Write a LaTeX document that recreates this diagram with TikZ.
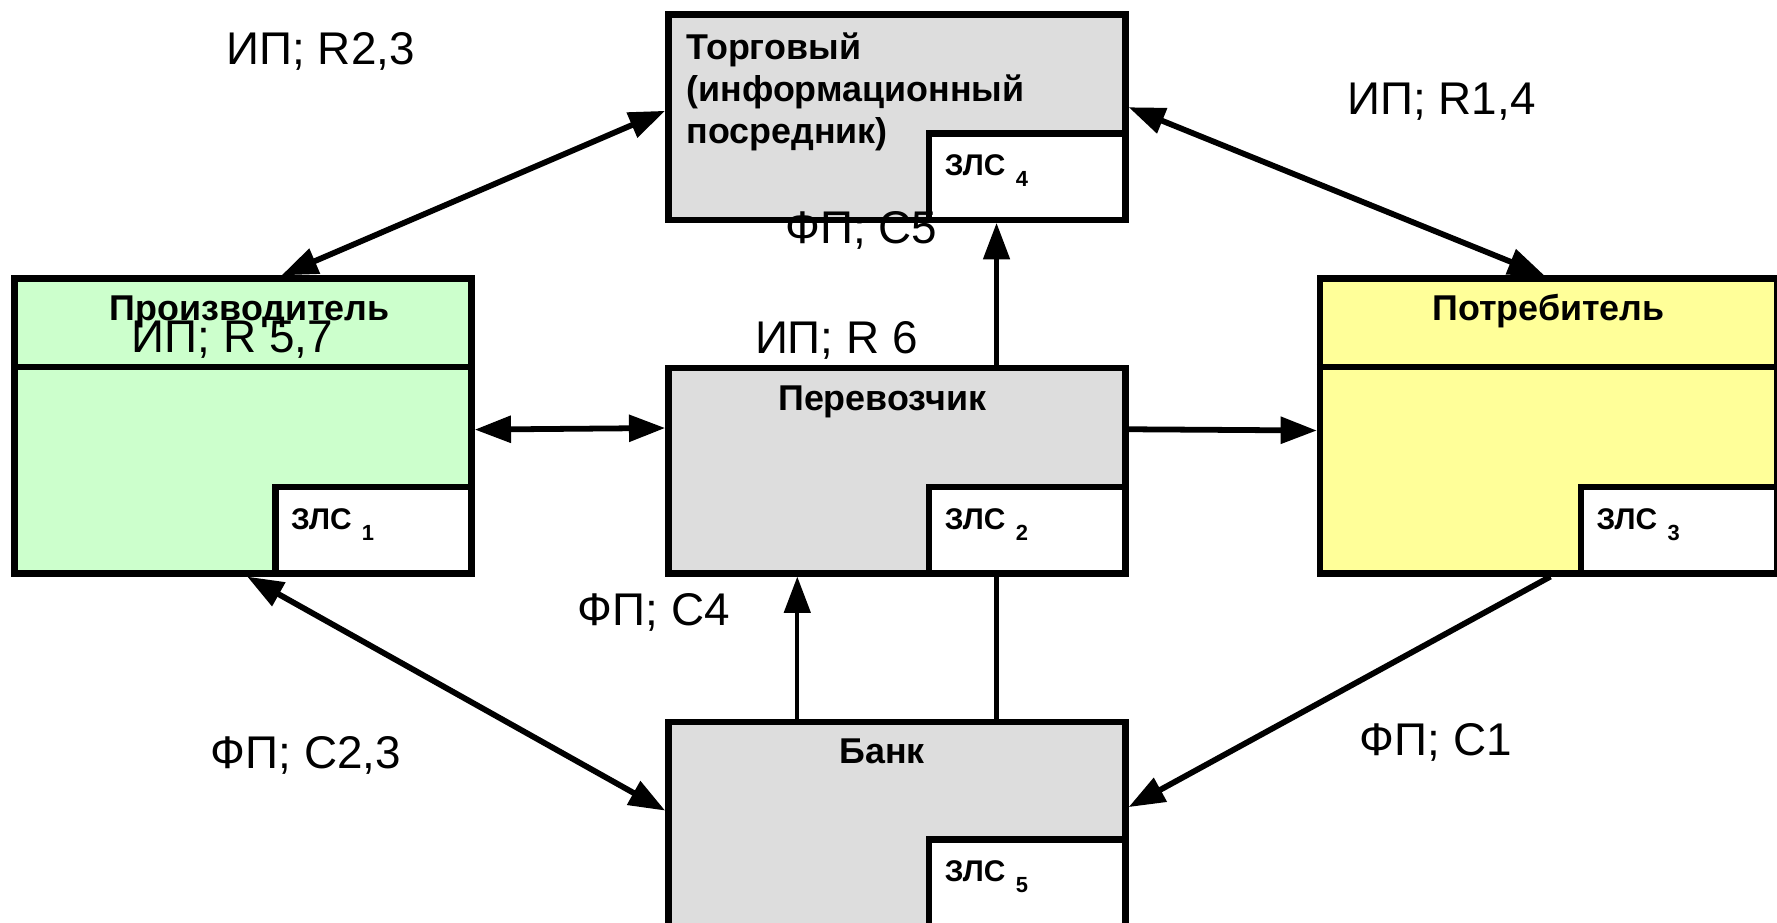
\documentclass[tikz,border=0pt]{standalone}
\usepackage{fontspec}
\setmainfont{Liberation Sans}
\usetikzlibrary{arrows.meta,calc}
\definecolor{grayfill}{HTML}{DDDDDD}
\definecolor{greenfill}{HTML}{CCFFCC}
\definecolor{yellowfill}{HTML}{FFFF99}
\begin{document}
\begin{tikzpicture}[x=0.01cm,y=-0.01cm,
  actor/.style={draw=black, line width=1.6pt, minimum width=4.03cm, anchor=north west, inner sep=0pt},
  zlsbox/.style={draw=black, line width=1.6pt, fill=white, minimum width=1.73cm, minimum height=0.76cm, inner sep=0pt},
  zlstext/.style={anchor=base west, inner sep=0pt, font=\fontsize{7.5}{9}\selectfont\bfseries},
  title/.style={anchor=base, inner sep=0pt, font=\fontsize{9}{11}\selectfont\bfseries},
  flow/.style={font=\fontsize{11.5}{14}\selectfont, inner sep=0pt},
  conn/.style={line width=1.45pt},
  vconn/.style={line width=1.1pt},
  tip/.style={-{Triangle[length=0.32cm,width=0.23cm]}},
  dtip/.style={{Triangle[length=0.32cm,width=0.23cm]}-{Triangle[length=0.32cm,width=0.23cm]}}
]
\useasboundingbox (0,0) rectangle (1568,814);
\fill[white] (0,0) rectangle (1568,814);

% main boxes
\node[actor, fill=grayfill, minimum height=1.81cm] (torg) at (587,10) {};
\node[actor, fill=greenfill, minimum height=2.60cm] (prod) at (10,243) {};
\node[actor, fill=grayfill, minimum height=1.81cm] (perv) at (587,322) {};
\node[actor, fill=yellowfill, minimum height=2.60cm] (potr) at (1162,243) {};
\node[actor, fill=grayfill, minimum height=2.00cm] (bank) at (587,634) {};

% header separators
\draw[line width=1.6pt] ($(prod.north west)!0.304!(prod.south west)$) coordinate (ps1) -- ($(prod.north east)!0.304!(prod.south east)$) coordinate (ps2);
\draw[line width=1.6pt] ($(potr.north west)!0.304!(potr.south west)$) coordinate (qs1) -- ($(potr.north east)!0.304!(potr.south east)$) coordinate (qs2);

% inner ZLS boxes
\node[zlsbox, anchor=south east] (z4) at (torg.south east) {};
\node[zlsbox, anchor=south east] (z1) at (prod.south east) {};
\node[zlsbox, anchor=south east] (z2) at (perv.south east) {};
\node[zlsbox, anchor=south east] (z3) at (potr.south east) {};
\node[zlsbox, anchor=north east, minimum height=1.0cm] (z5) at ($(bank.north east)+(0,104)$) {};

\foreach \z/\n in {z1/1,z2/2,z3/3,z4/4,z5/5}{
  \node[zlstext] (t\z) at ($(\z.north west)+(16,40)$) {ЗЛС\hspace{2.6pt}\raisebox{-2.8pt}{\fontsize{5.5}{6}\selectfont\bfseries\n}};
}

% titles
\node[anchor=north west, inner sep=0pt, align=left, font=\fontsize{9}{10.6}\selectfont\bfseries] (ttorg) at ($(torg.north west)+(18,18)$) {Торговый\\(информационный\\посредник)};
\node[title] (tprod) at ($(prod.north)+(6,40)$) {Производитель};
\node[title] (tperv) at ($(perv.north)+(-13,40)$) {Перевозчик};
\node[title] (tpotr) at ($(potr.north)+(0,40)$) {Потребитель};
\node[title] (tbank) at ($(bank.north)+(-13,40)$) {Банк};

% connectors
\draw[conn, dtip] ($(torg.north west)!0.47!(torg.south west)$) coordinate (c1a) -- ($(prod.north west)!0.583!(prod.north east)$) coordinate (c1b);
\draw[conn, dtip] ($(torg.north east)!0.453!(torg.south east)$) coordinate (c2a) -- ($(potr.north west)!0.491!(potr.north east)$) coordinate (c2b);
\draw[vconn, tip] ($(perv.north west)!0.715!(perv.north east)$) coordinate (c3a) -- ($(torg.south west)!0.715!(torg.south east)$) coordinate (c3b);
\draw[conn, dtip] ($(prod.north east)!0.512!(prod.south east)$) coordinate (c4a) -- ($(perv.north west)!0.298!(perv.south west)$) coordinate (c4b);
\draw[conn, tip] ($(perv.north east)!0.304!(perv.south east)$) coordinate (c5a) -- ($(potr.north west)!0.515!(potr.south west)$) coordinate (c5b);
\draw[vconn, tip] ($(bank.north west)!0.285!(bank.north east)$) coordinate (c6a) -- ($(perv.south west)!0.285!(perv.south east)$) coordinate (c6b);
\draw[vconn] ($(perv.south west)!0.715!(perv.south east)$) coordinate (c7a) -- ($(bank.north west)!0.715!(bank.north east)$) coordinate (c7b);
\draw[conn, dtip] ($(prod.south west)!0.509!(prod.south east)$) coordinate (c8a) -- ($(bank.north west)!0.395!(bank.south west)$) coordinate (c8b);
\draw[conn, tip] ($(potr.south west)!0.504!(potr.south east)$) coordinate (c9a) -- ($(bank.north east)!0.38!(bank.south east)$) coordinate (c9b);

% flow labels
\node[flow] (l1) at (283,45) {ИП; R2,3};
\node[flow] (l2) at (1272,90) {ИП; R1,4};
\node[flow] (l3) at (760,203) {ФП; С5};
\node[flow] (l4) at (738,300) {ИП; R 6};
\node[flow] (l5) at (205,300) {ИП; R 5,7};
\node[flow] (l6) at (577,540) {ФП; С4};
\node[flow] (l7) at (270,667) {ФП; С2,3};
\node[flow] (l8) at (1267,655) {ФП; С1};
\end{tikzpicture}
\end{document}
